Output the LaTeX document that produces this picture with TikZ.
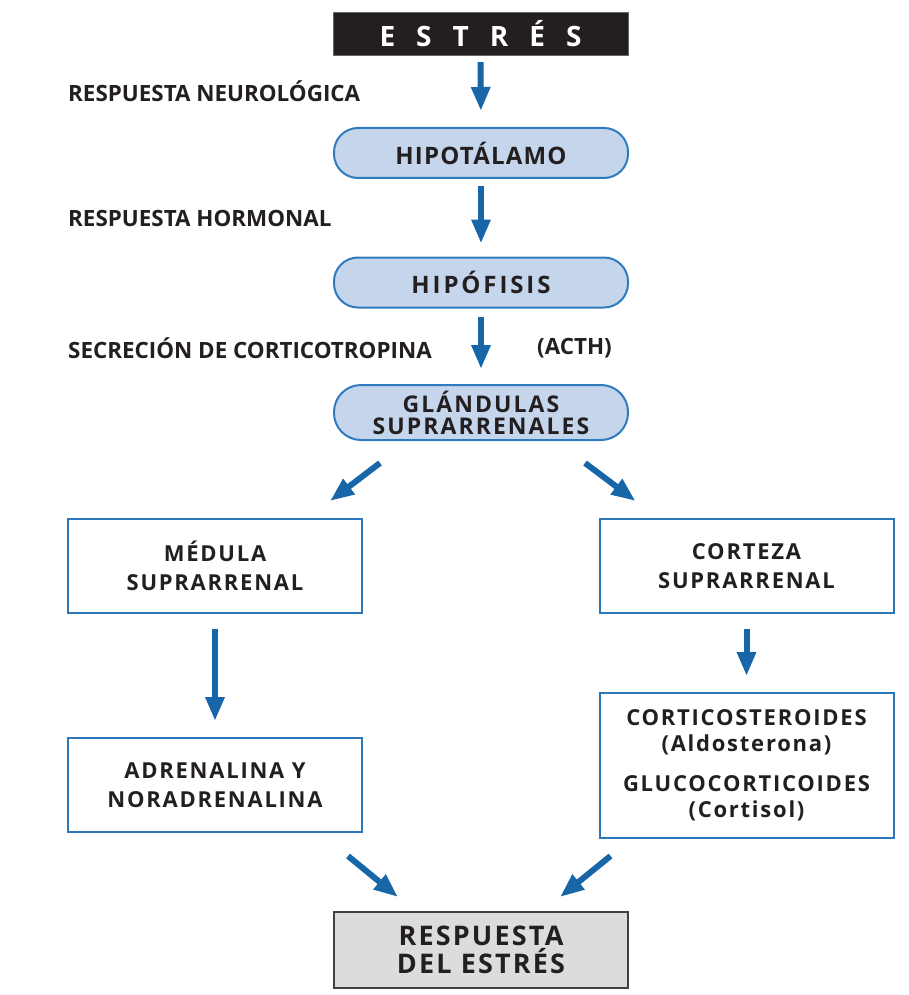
\documentclass[tikz,border=0pt]{standalone}
\usepackage{fontspec}
\setmainfont{Open Sans}
\usetikzlibrary{arrows.meta}
\definecolor{arrblue}{HTML}{1766A8}
\definecolor{pillfill}{HTML}{C5D6EC}
\definecolor{pillline}{HTML}{2E7BBF}
\definecolor{boxline}{HTML}{2A78B9}
\definecolor{txt}{HTML}{231F20}
\definecolor{grayfill}{HTML}{DCDCDC}
\tikzset{
  arr/.style={draw=arrblue, line width=6pt, -{Triangle[width=18pt,length=24pt]}},
  pill/.style={draw=pillline, fill=pillfill, line width=2pt, rounded corners=24pt,
    minimum width=294pt, minimum height=50pt, inner sep=0pt, align=center,
    text=txt, font=\fontsize{24}{21}\selectfont\bfseries\addfontfeature{LetterSpace=5}},
  sbox/.style={draw=boxline, line width=2pt, minimum width=294pt, inner sep=0pt,
    align=center, text=txt, font=\fontsize{22}{29}\selectfont\bfseries\addfontfeature{LetterSpace=8}},
  lbl/.style={anchor=west, inner sep=0pt, text=txt, font=\fontsize{22.4}{24}\selectfont\bfseries}
}
\begin{document}
\begin{tikzpicture}[x=1pt,y=-1pt]
\useasboundingbox (0,0) rectangle (909,995);
\node[fill=txt, draw=black!60, minimum width=295pt, minimum height=43pt, inner sep=0pt,
  text=white, font=\fontsize{28}{28}\selectfont\bfseries] (estres) at (480.5,33.5)
  {E\hspace{21pt}S\hspace{21pt}T\hspace{21pt}R\hspace{21pt}É\hspace{21pt}S};
\node[pill] (hipot) at (481,153) {HIPOTÁLAMO};
\node[pill, font=\fontsize{24}{21}\selectfont\bfseries\addfontfeature{LetterSpace=12}] (hipof) at (481,282.5) {HIPÓFISIS};
\node[pill, minimum height=55pt, rounded corners=27pt, font=\fontsize{23}{22}\selectfont\bfseries\addfontfeature{LetterSpace=9}] (glan) at (481,412.5) {GLÁNDULAS\\SUPRARRENALES};
\node[sbox, minimum height=94pt] (medula) at (215,566) {MÉDULA\\SUPRARRENAL};
\node[sbox, minimum height=94pt] (cortex) at (746.5,566) {CORTEZA\\SUPRARRENAL};
\node[sbox, minimum height=94pt] (adren) at (215,785) {ADRENALINA Y\\NORADRENALINA};
\node[sbox, minimum height=145pt, font=\fontsize{22}{26}\selectfont\bfseries\addfontfeature{LetterSpace=8}] (cortico) at (746.5,765.5)
  {CORTICOSTEROIDES\\(Aldosterona)\\[14pt]GLUCOCORTICOIDES\\(Cortisol)};
\node[draw=black!75, fill=grayfill, line width=2pt, minimum width=294pt, minimum height=76pt,
  inner sep=0pt, align=center, text=txt, font=\fontsize{27}{28}\selectfont\bfseries\addfontfeature{LetterSpace=8}] (resp) at (481,950)
  {RESPUESTA\\DEL ESTRÉS};
\node[lbl] (l1) at (68,91) {RESPUESTA NEUROLÓGICA};
\node[lbl] (l2) at (68,218) {RESPUESTA HORMONAL};
\node[lbl] (l3) at (68,348) {SECRECIÓN DE CORTICOTROPINA};
\node[lbl] (l4) at (537,348) {(ACTH)};
\draw[arr, shorten <=7pt, shorten >=16pt] (estres) -- (hipot);
\draw[arr, shorten <=7pt, shorten >=13pt] (hipot) -- (hipof);
\draw[arr, shorten <=8pt, shorten >=15pt] (hipof) -- (glan);
\draw[arr] ([xshift=-101pt,yshift=-22pt]glan.south) -- ([xshift=115pt,yshift=17pt]medula.north);
\draw[arr] ([xshift=104pt,yshift=-22pt]glan.south) -- ([xshift=-111pt,yshift=17pt]cortex.north);
\draw[arr, shorten <=15pt, shorten >=16pt] (medula) -- (adren);
\draw[arr, shorten <=15pt, shorten >=16pt] (cortex.south) -- (cortico.north);
\draw[arr] ([xshift=133pt,yshift=-23pt]adren.south) -- ([xshift=-83pt,yshift=14pt]resp.north);
\draw[arr] ([xshift=-136pt,yshift=-17pt]cortico.south) -- ([xshift=79pt,yshift=14pt]resp.north);
\end{tikzpicture}
\end{document}
